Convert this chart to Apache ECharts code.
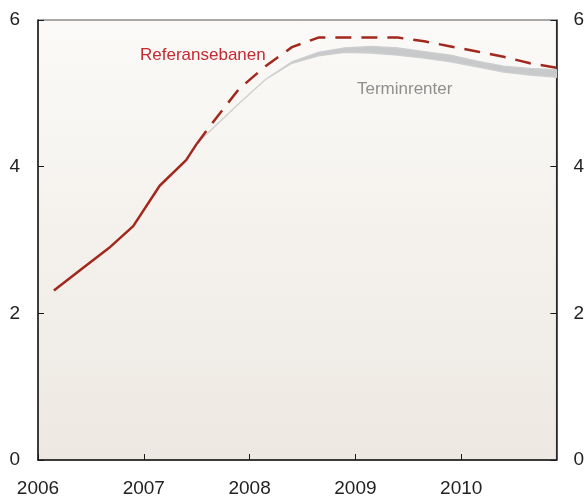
<!DOCTYPE html>
<html>
<head>
<meta charset="utf-8">
<script src="https://cdn.jsdelivr.net/npm/echarts@6/dist/echarts.min.js"></script>
<style>
  html, body { margin: 0; padding: 0; background: #fff; }
  #chart { width: 587px; height: 498px; }
</style>
</head>
<body>
<div id="chart"></div>
<script>
  // historikk (heltrukken) og referansebane (stiplet), kvartalsvis
  const histX = [2006.15, 2006.40, 2006.67, 2006.90, 2007.15, 2007.40, 2007.50];
  const histY = [2.31, 2.59, 2.89, 3.19, 3.74, 4.09, 4.31];
  const pathX = [2007.50, 2007.65, 2007.90, 2008.15, 2008.40, 2008.65, 2008.90, 2009.15,
                 2009.40, 2009.65, 2009.90, 2010.15, 2010.40, 2010.65, 2010.90];
  const pathY = [4.31, 4.60, 5.06, 5.37, 5.63, 5.76, 5.76, 5.76,
                 5.76, 5.71, 5.64, 5.57, 5.50, 5.41, 5.35];
  // terminrenter: nedre og øvre kant av båndet
  const termLow  = [4.31, 4.52, 4.86, 5.19, 5.41, 5.51, 5.56, 5.55,
                    5.52, 5.48, 5.43, 5.36, 5.29, 5.25, 5.22];
  const termHigh = [4.31, 4.52, 4.86, 5.19, 5.43, 5.56, 5.62, 5.64,
                    5.62, 5.57, 5.52, 5.44, 5.37, 5.34, 5.32];
  const yTicks = [0, 2, 4, 6];
  const xYears = [2006, 2007, 2008, 2009, 2010];

  const font = 'Arial, "Liberation Sans", sans-serif';
  const pairs = (xs, ys) => xs.map((x, i) => [x, ys[i]]);

  const chart = echarts.init(document.getElementById('chart'));

  const yAxisBase = {
    type: 'value',
    min: yTicks[0],
    max: yTicks[yTicks.length - 1],
    interval: 2,
    axisLine: { show: true, lineStyle: { color: '#1a1a1a', width: 1.5 } },
    axisTick: { show: true, inside: true, length: 6, lineStyle: { color: '#1a1a1a', width: 1 } },
    axisLabel: { color: '#222', fontSize: 19, fontFamily: font },
    splitLine: { show: false }
  };

  // bånd for terminrentene: polygon fra øvre kant og tilbake langs nedre kant
  function renderBand(params, api) {
    const pts = [];
    for (let i = 0; i < pathX.length; i++) pts.push(api.coord([pathX[i], termHigh[i]]));
    for (let i = pathX.length - 1; i >= 0; i--) pts.push(api.coord([pathX[i], termLow[i]]));
    return {
      type: 'polygon',
      shape: { points: pts },
      style: { fill: '#c8c9cb', stroke: '#cdcecf', lineWidth: 1.3 }
    };
  }

  const option = {
    animation: false,
    grid: {
      left: 38, right: 26, top: 20, bottom: 38,
      show: true,
      borderColor: '#555',
      borderWidth: 1,
      backgroundColor: new echarts.graphic.LinearGradient(0, 0, 0, 1, [
        { offset: 0, color: '#fbfaf8' },
        { offset: 1, color: '#ede8e1' }
      ])
    },
    xAxis: {
      type: 'value',
      min: xYears[0],
      max: 2010.9,
      interval: 1,
      axisLine: { show: true, onZero: false, lineStyle: { color: '#1a1a1a', width: 1.5 } },
      axisTick: { show: true, inside: true, length: 6, lineStyle: { color: '#1a1a1a', width: 1 } },
      axisLabel: {
        color: '#222', fontSize: 19, fontFamily: font, margin: 19,
        showMaxLabel: false,
        formatter: v => (xYears.indexOf(Math.round(v)) >= 0 && Math.abs(v - Math.round(v)) < 1e-6) ? String(Math.round(v)) : ''
      },
      splitLine: { show: false }
    },
    yAxis: [
      Object.assign({}, yAxisBase, { position: 'left', axisLabel: Object.assign({}, yAxisBase.axisLabel, { margin: 18 }) }),
      Object.assign({}, yAxisBase, { position: 'right', axisLabel: Object.assign({}, yAxisBase.axisLabel, { margin: 17 }) })
    ],
    series: [
      {
        name: 'Terminrenter',
        type: 'custom',
        renderItem: renderBand,
        data: [0],
        encode: { x: -1, y: -1 },
        clip: true,
        silent: true,
        z: 2
      },
      {
        name: 'Historikk',
        type: 'line',
        symbol: 'none',
        data: pairs(histX, histY),
        lineStyle: { color: '#a1281d', width: 2.5 },
        z: 3
      },
      {
        name: 'Referansebanen',
        type: 'line',
        symbol: 'none',
        data: pairs(pathX, pathY),
        lineStyle: { color: '#a1281d', width: 2.5, type: [16, 10] },
        z: 3
      }
    ],
    graphic: [
      {
        type: 'text', left: 140, top: 47,
        style: { text: 'Referansebanen', fill: '#c42a32', font: '17px ' + font }
      },
      {
        type: 'text', left: 357, top: 81,
        style: { text: 'Terminrenter', fill: '#8f8f8f', font: '17px ' + font }
      }
    ]
  };

  chart.setOption(option);
</script>
</body>
</html>
